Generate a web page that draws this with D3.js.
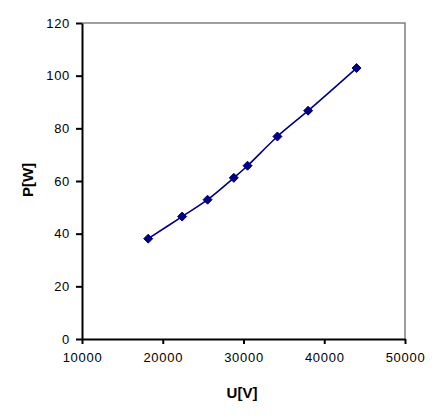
<!DOCTYPE html>
<html>
<head>
<meta charset="utf-8">
<script src="https://cdn.jsdelivr.net/npm/d3@7"></script>
<style>
  body { margin: 0; background: #fff; }
  svg text { font-family: "Liberation Sans", Arial, sans-serif; }
</style>
</head>
<body>
<svg id="chart" width="441" height="420"></svg>
<script>
// data
const voltage = [18200, 22400, 25550, 28800, 30500, 34200, 38000, 44000];
const power = [38.1, 46.5, 52.9, 61.2, 65.8, 76.9, 86.7, 102.9];
const xTicks = [10000, 20000, 30000, 40000, 50000];
const yTicks = [0, 20, 40, 60, 80, 100, 120];

const svg = d3.select("#chart");
const plotLeft = 82, plotRight = 405, plotTop = 23, plotBottom = 339;

const x = d3.scaleLinear().domain([10000, 50000]).range([plotLeft, plotRight]);
const y = d3.scaleLinear().domain([0, 120]).range([plotBottom, plotTop]);

// grey frame on top and right
svg.append("path")
    .attr("d", `M${plotLeft},${plotTop}H${plotRight}V${plotBottom}`)
    .attr("fill", "none")
    .attr("stroke", "#808080")
    .attr("stroke-width", 1.5);

const xAxis = svg.append("g")
    .attr("transform", `translate(0,${plotBottom})`)
    .call(d3.axisBottom(x).tickValues(xTicks).tickFormat(d3.format("d"))
        .tickSize(5).tickPadding(9).tickSizeOuter(0));

const yAxis = svg.append("g")
    .attr("transform", `translate(${plotLeft},0)`)
    .call(d3.axisLeft(y).tickValues(yTicks).tickFormat(d3.format("d"))
        .tickSize(6).tickPadding(6).tickSizeOuter(0));

[xAxis, yAxis].forEach(g => {
    g.attr("font-family", "Liberation Sans").attr("font-size", 13);
    g.selectAll("path, line").attr("stroke", "#000").attr("stroke-width", 2);
    g.selectAll("text")
        .attr("fill", "#000")
        .style("letter-spacing", "0.7px");
});

// axis titles
svg.append("text")
    .attr("x", 242).attr("y", 398)
    .attr("text-anchor", "middle")
    .style("font-size", "15px").style("font-weight", "bold")
    .text("U[V]");

svg.append("text")
    .attr("transform", "translate(33,180) rotate(-90)")
    .attr("text-anchor", "middle")
    .style("font-size", "15px").style("font-weight", "bold")
    .text("P[W]");

const pts = voltage.map((v, i) => [v, power[i]]);

const line = d3.line()
    .x(d => x(d[0]))
    .y(d => y(d[1]))
    .curve(d3.curveCatmullRom);

svg.append("path")
    .datum(pts)
    .attr("d", line)
    .attr("fill", "none")
    .attr("stroke", "#000080")
    .attr("stroke-width", 1.6);

svg.selectAll(".marker")
    .data(pts)
    .enter()
    .append("path")
    .attr("class", "marker")
    .attr("transform", d => `translate(${x(d[0])},${y(d[1])})`)
    .attr("d", "M0,-4.5L4.5,0L0,4.5L-4.5,0Z")
    .attr("fill", "#000080")
    .attr("stroke", "#000080")
    .attr("stroke-width", 1);
</script>
</body>
</html>
